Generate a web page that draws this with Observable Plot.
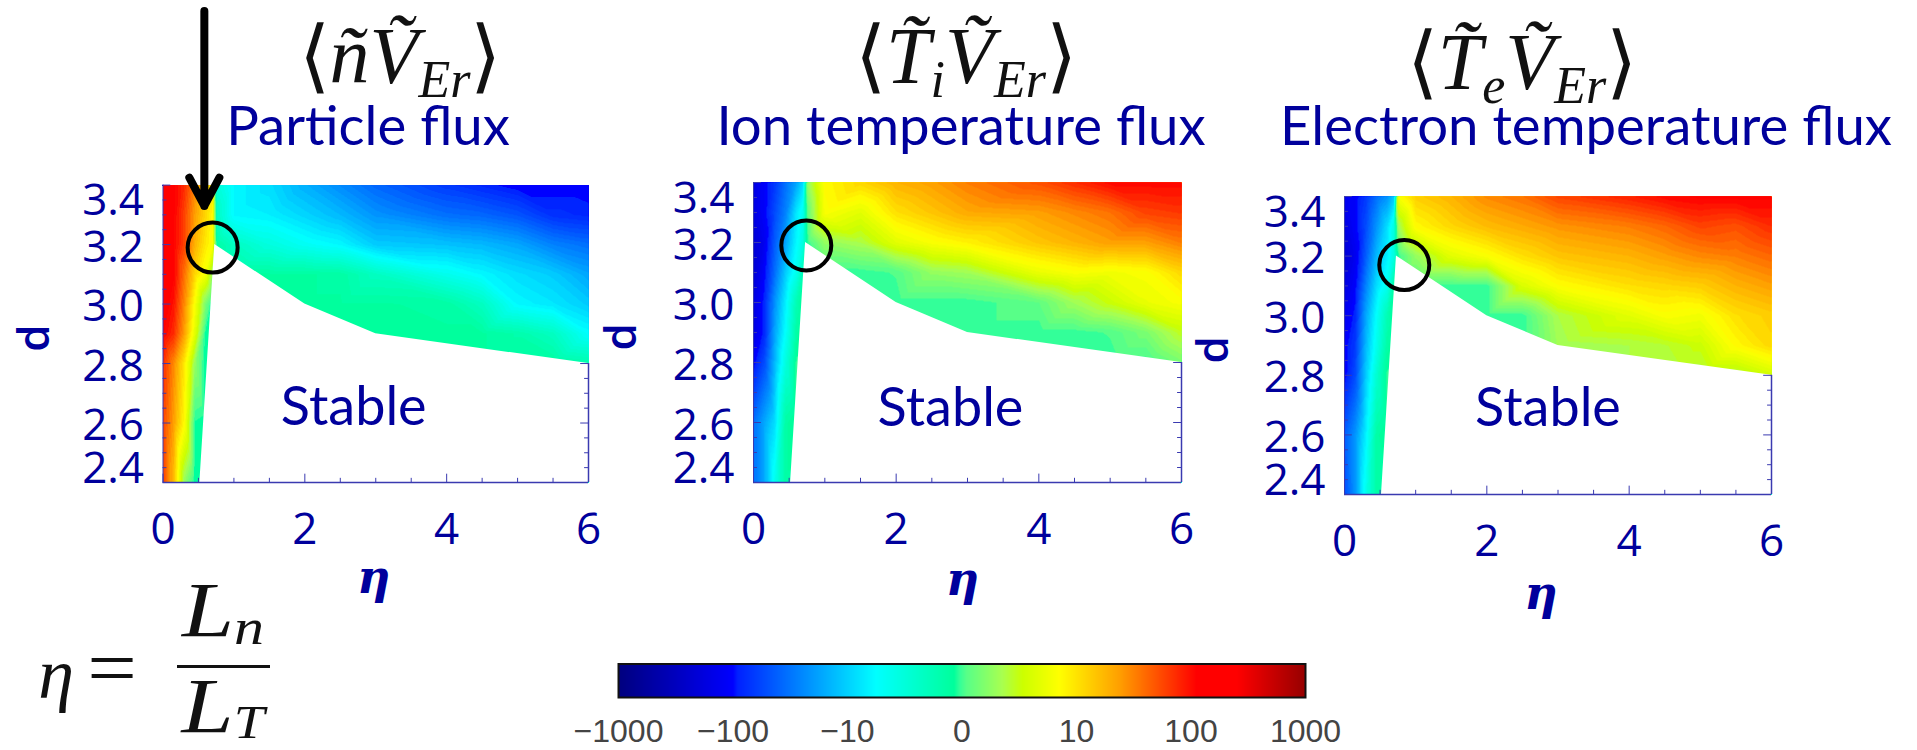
<!DOCTYPE html>
<html><head><meta charset="utf-8">
<script src="https://cdn.jsdelivr.net/npm/d3@7"></script>
<script src="https://cdn.jsdelivr.net/npm/@observablehq/plot@0.6"></script>
<style>
html,body{margin:0;padding:0;background:#fff;width:1917px;height:750px;overflow:hidden}
#page{position:relative;width:1917px;height:750px}
.slot{position:absolute}
.slot svg{display:block;background:transparent;overflow:visible}
.abs{position:absolute;white-space:nowrap;transform:translate(-50%,-50%);line-height:1}
.sub{font-family:Lato,"Open Sans",sans-serif;color:#00009c;font-size:54.5px}
.math{font-family:"Liberation Serif",serif;color:#111;font-size:80px}
.math i{font-style:italic}
.math sub{font-size:52px;font-style:italic;vertical-align:-14px;line-height:0}
.frac{font-family:"Liberation Serif",serif;color:#111;font-style:italic}
</style></head><body><div id="page"></div>
<script>
// Grid of the map: eta (columns) and d (rows, top to bottom)
const etaValues = [0, .15, .3, .45, .6, .7, .76, 1, 1.5, 2, 2.5, 3, 4, 4.5, 5, 5.5, 6];
const dValues = [3.4, 3.3, 3.2, 3.1, 3.0, 2.9, 2.8, 2.6, 2.4];

// Flux on the colour-bar's decade scale (-3 = -1000, 0 = 0, +3 = +1000)
const particleFlux = [
 [2.2,2.1,1.9,1.5,1.15,1.0,-.45,-.75,-.9,-1.15,-1.35,-1.55,-1.8,-1.9,-2,-2,-2],
 [2.3,2.1,1.8,1.4,1.1,.9,-.3,-.75,-.8,-.95,-1.1,-1.3,-1.5,-1.55,-1.65,-1.85,-1.9],
 [2.5,2.1,1.8,1.3,1.0,.85,-.1,-.3,-.5,-.65,-.75,-1,-1.05,-1.1,-1.2,-1.4,-1.5],
 [2.5,2.1,1.6,1.1,.8,.3,-.07,-.07,-.07,-.07,-.1,-.3,-.6,-.75,-.9,-1,-1.2],
 [2.2,2.0,1.5,.85,.2,-.07,-.07,-.07,-.07,-.07,-.07,-.07,-.1,-.3,-.75,-.85,-1],
 [2.1,1.9,1.4,.7,-.05,-.07,-.07,-.07,-.07,-.07,-.07,-.07,-.07,-.07,-.15,-.3,-.7],
 [1.9,1.5,1.0,.3,-.07,-.07,-.07,-.07,-.07,-.07,-.07,-.07,-.07,-.07,-.07,-.07,-.15],
 [1.8,1.4,.9,-.03,-.07,-.07,-.07,-.07,-.07,-.07,-.07,-.07,-.07,-.07,-.07,-.07,-.07],
 [1.8,1.25,.3,-.07,-.07,-.07,-.07,-.07,-.07,-.07,-.07,-.07,-.07,-.07,-.07,-.07,-.07]
];
const ionFlux = [
 [-2.2,-2,-1.8,-1.5,-1.2,-.9,.3,.9,1.1,1.3,1.4,1.55,1.75,1.9,2.05,2.05,2.05],
 [-2.2,-2,-1.7,-1.4,-.85,-.6,.1,.85,.7,1.05,1.2,1.35,1.4,1.5,1.6,1.8,1.85],
 [-2.3,-2.1,-1.6,-1.2,-.75,-.5,0,.3,.4,.7,.85,.95,1.2,1.3,1.4,1.4,1.55],
 [-2.3,-2,-1.5,-1,-.6,-.2,0,0,0,.05,.3,.35,.75,.85,.8,.85,1.1],
 [-2.2,-1.9,-1.3,-.8,-.2,0,0,0,0,0,0,0,.1,.35,.55,.75,.85],
 [-2.2,-1.9,-1.2,-.7,-.1,0,0,0,0,0,0,0,0,0,.05,.2,.5],
 [-2,-1.7,-1.1,-.5,0,0,0,0,0,0,0,0,0,0,0,0,.2],
 [-1.5,-1.2,-.9,-.1,0,0,0,0,0,0,0,0,0,0,0,0,0],
 [-1.5,-1.2,-.6,-.1,-.1,0,0,0,0,0,0,0,0,0,0,0,0]
];
const electronFlux = [
 [-2.1,-2,-1.8,-1.5,-1.3,-1,.85,1.15,1.3,1.5,1.6,1.8,1.95,2.05,2.1,2.1,2.1],
 [-2.2,-2,-1.7,-1.3,-.9,-.5,.35,.9,1.1,1.25,1.35,1.45,1.55,1.65,1.8,1.75,1.9],
 [-2.3,-2.1,-1.6,-1.1,-.8,-.5,0,.3,.7,.85,1.05,1.2,1.3,1.4,1.5,1.55,1.65],
 [-2.2,-2,-1.4,-.9,-.6,-.1,0,0,0,0,.65,.87,1.05,1.1,1.15,1.3,1.4],
 [-2.1,-1.9,-1.2,-.7,-.2,0,0,0,0,0,0,.4,.7,.85,.8,1.05,1.15],
 [-2,-1.8,-1.1,-.6,-.1,0,0,0,0,0,0,.35,.4,.45,.55,.9,1.1],
 [-2,-1.7,-1,-.4,0,0,0,0,0,0,0,.35,.4,.4,.4,.4,.6],
 [-1.6,-1.3,-.8,-.1,0,0,0,0,0,0,0,0,0,0,0,0,0],
 [-1.7,-1.3,-.6,-.1,-.1,0,0,0,0,0,0,0,0,0,0,0,0]
];

// Edge of the stable region
const stableEta = [.52, .73, 2, 3, 6];
const stableD = [2.4, 3.2, 3.0, 2.9, 2.8];

// Axis ticks
const etaMajor = [0, 2, 4, 6];
const etaMinor = [.5, 1, 1.5, 2.5, 3, 3.5, 4.5, 5, 5.5];
const dMajor = [2.4, 2.6, 2.8, 3.0, 3.2, 3.4];
const dMinor = [2.45, 2.5, 2.55, 2.65, 2.7, 2.75, 2.85, 2.9, 2.95, 3.05, 3.1, 3.15, 3.25, 3.3, 3.35];

// Colour bar
const barLevels = [-3, -2, -1, 0, 1, 2, 3];
const barLabels = ["−1000", "−100", "−10", "0", "10", "100", "1000"];
const colorStops = [-3, -2, -1.96, -.75, -.07, -.02, .04, .35, .53, .85, 1.37, 2.05, 2.4, 3];
const colorValues = ["#00007f", "#0000ff", "#0020ff", "#00ffff", "#00ff9c", "#33ff99", "#58ff88", "#a8ff50", "#ccff00", "#ffff00", "#ffa000", "#ff0000", "#ff0000", "#960000"];

const panelTexts = [
 {math:"⟨<i>ñV&#x0303;</i><sub>Er</sub>⟩", name:"Particle flux"},
 {math:"⟨<i>T&#x0303;</i><sub>i</sub><i>V&#x0303;</i><sub>Er</sub>⟩", name:"Ion temperature flux"},
 {math:"⟨<i>T&#x0303;</i><sub>e</sub><i>V&#x0303;</i><sub>Er</sub>⟩", name:"Electron temperature flux"}
];

const blue = "#00009c", lineBlue = "#3a3ab0", tickFont = "Open Sans";
const colorScale = {type:"linear", domain:colorStops, range:colorValues, clamp:true};
const thresholds = d3.range(-3.2, 3, .06);

function panel(values, layout, extra) {
  const points = [];
  dValues.forEach((d, r) => etaValues.forEach((eta, c) => points.push({eta, d, v: values[r][c]})));
  const stable = stableEta.map((eta, i) => ({eta, d: stableD[i]}));
  const plot = Plot.plot({
    width: layout.w, height: layout.h,
    marginLeft: layout.L - layout.x, marginRight: layout.x + layout.w - layout.R,
    marginTop: layout.T - layout.y, marginBottom: layout.y + layout.h - layout.B,
    x: {domain:[0,6], axis:null}, y: {domain:[2.4,3.4], axis:null},
    color: colorScale, style:{background:"transparent", overflow:"visible"},
    marks: [
      Plot.contour(points, {x:"eta", y:"d", value:"v", fill:"value", interpolate:"barycentric", thresholds, pixelSize:1, blur:0, smooth:false}),
      Plot.areaY(stable, {x:"eta", y1:2.4, y2:"d", fill:"white"}),
      Plot.ruleY([2.4], {stroke:lineBlue, strokeWidth:1.5}),
      Plot.ruleX([6], {y1:2.4, y2:2.8, stroke:lineBlue, strokeWidth:1.5}),
      Plot.ruleX([0], {stroke:lineBlue, strokeWidth:1}),
      Plot.ruleX(etaMajor, {y1:2.4, y2:2.428, stroke:lineBlue}),
      Plot.ruleX(etaMinor, {y1:2.4, y2:2.414, stroke:lineBlue}),
      Plot.ruleY(dMajor, {x1:0, x2:.11, stroke:lineBlue}),
      Plot.ruleY(dMinor, {x1:0, x2:.055, stroke:lineBlue}),
      Plot.ruleY(dMajor.filter(d => d <= 2.8), {x1:5.89, x2:6, stroke:lineBlue}),
      Plot.ruleY(dMinor.filter(d => d <= 2.8), {x1:5.945, x2:6, stroke:lineBlue}),
      Plot.axisX({ticks:etaMajor, tickSize:0, tickPadding:30, fontSize:44, fill:blue, fontFamily:tickFont, label:null, tickFormat:d3.format("d")}),
      Plot.axisY({ticks:[2.6,2.8,3.0,3.2], tickSize:0, tickPadding:19, dy:3, fontSize:44, fill:blue, fontFamily:tickFont, label:null, tickFormat:d3.format(".1f")}),
      Plot.axisY({ticks:[3.4], tickSize:0, tickPadding:19, dy:16, fontSize:44, fill:blue, fontFamily:tickFont, label:null, tickFormat:d3.format(".1f")}),
      Plot.axisY({ticks:[2.4], tickSize:0, tickPadding:19, dy:-14, fontSize:44, fill:blue, fontFamily:tickFont, label:null, tickFormat:d3.format(".1f")}),
      Plot.text(["Stable"], {frameAnchor:"middle", dx:layout.stableDx, dy:layout.stableDy, fontSize:54, fill:blue, fontFamily:"Lato"}),
      Plot.text(["η"], {frameAnchor:"bottom", dx:layout.etaDx, dy:layout.etaDy, fontSize:46, fontWeight:"bold", fontStyle:"italic", fill:blue, fontFamily:"DejaVu Serif"}),
      Plot.text(["d"], {frameAnchor:"left", dx:layout.dDx, dy:layout.dDy, rotate:-90, fontSize:44, fontWeight:600, fill:blue, fontFamily:tickFont}),
      Plot.dot([{eta:layout.ringEta, d:layout.ringD}], {x:"eta", y:"d", r:25, fill:"none", stroke:"#000", strokeWidth:4}),
      ...extra
    ]
  });
  const slot = document.createElement("div");
  slot.className = "slot";
  slot.style.cssText = `left:${layout.x}px;top:${layout.y}px;width:${layout.w}px;height:${layout.h}px`;
  slot.appendChild(plot);
  document.getElementById("page").appendChild(slot);
}

panel(particleFlux, {x:0,y:0,w:640,h:620,L:162.5,R:588,T:184.6,B:482,stableDx:-22,stableDy:74,etaDx:-2,etaDy:110,dDx:-128,dDy:18,ringEta:.7,ringD:3.19}, [
  Plot.arrow([{eta:.583, top:3.985, tip:3.33}], {x1:"eta", x2:"eta", y1:"top", y2:"tip", stroke:"#000", strokeWidth:8, headLength:6, headAngle:56})
]);
panel(ionFlux, {x:600,y:0,w:620,h:620,L:753,R:1181,T:182,B:482,stableDx:-17,stableDy:76,etaDx:-5,etaDy:112,dDx:-132,dDy:18,ringEta:.74,ringD:3.19}, []);
panel(electronFlux, {x:1190,y:0,w:727,h:620,L:1344,R:1771,T:196,B:494,stableDx:-10,stableDy:63,etaDx:-17,etaDy:114,dDx:-131,dDy:18,ringEta:.84,ringD:3.17}, []);

// Colour bar through the same scale
const bar = Plot.plot({
  width:760, height:100, marginLeft:28, marginRight:45, marginTop:13.5, marginBottom:53,
  x:{domain:[-3,3], axis:null}, y:{domain:[0,1], axis:null},
  color: colorScale, style:{background:"transparent", overflow:"visible"},
  marks:[
    Plot.raster({x1:-3, x2:3, y1:0, y2:1, fill:(x) => x, pixelSize:1}),
    Plot.frame({stroke:"#111", strokeWidth:2}),
    Plot.axisX({ticks:barLevels, tickSize:0, tickPadding:22, fontSize:32, fill:"#444", fontFamily:"Liberation Sans", fontWeight:300, label:null, tickFormat:(d) => barLabels[barLevels.indexOf(d)]})
  ]
});
const barSlot = document.createElement("div");
barSlot.className = "slot";
barSlot.style.cssText = "left:590px;top:650px";
barSlot.appendChild(bar);
const page = document.getElementById("page");
page.appendChild(barSlot);

// Titles
const centers = [[400,56,368],[966,56,961],[1522,62,1586]];
panelTexts.forEach((t,i) => {
  const m = document.createElement("div");
  m.className = "abs math"; m.innerHTML = t.math;
  m.style.left = centers[i][0]+"px"; m.style.top = centers[i][1]+"px";
  page.appendChild(m);
  const s = document.createElement("div");
  s.className = "abs sub"; s.textContent = t.name;
  s.style.left = centers[i][2]+"px"; s.style.top = "124px";
  page.appendChild(s);
});

// Definition of eta
function fragment(html, x, y, size, stretch) {
  const e = document.createElement("div");
  e.className = "abs frac"; e.innerHTML = html;
  e.style.cssText += `left:${x}px;top:${y}px;font-size:${size}px;transform:translate(-50%,-50%) scaleX(${stretch})`;
  page.appendChild(e);
}
fragment("η", 56, 674, 72, 1);
fragment('<span style="font-style:normal">=</span>', 112, 668, 80, 1.1);
fragment('L<span style="font-size:50px;position:relative;top:8px">n</span>', 223, 610, 78, 1.2);
fragment('L<span style="font-size:46px;position:relative;top:6px">T</span>', 223, 706, 78, 1.2);
const fr = document.createElement("div");
fr.style.cssText = "position:absolute;left:177px;top:665px;width:93px;height:3px;background:#111";
page.appendChild(fr);
</script></body></html>
